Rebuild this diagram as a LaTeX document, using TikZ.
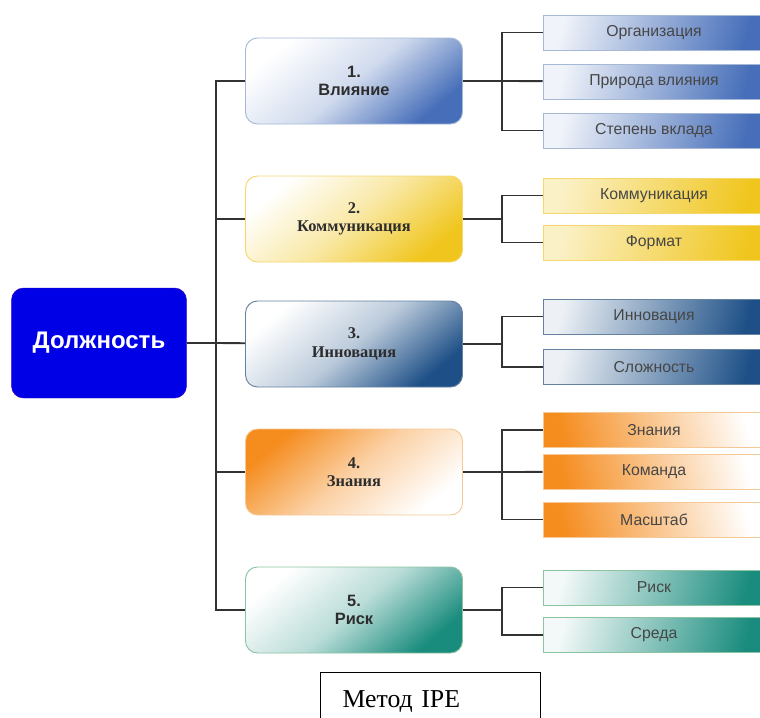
\documentclass[tikz,border=0pt]{standalone}
\usepackage{fontspec}
\setmainfont{Liberation Serif}
\setsansfont{Liberation Sans}

\definecolor{rootblue}{RGB}{0,0,230}
\definecolor{textgray}{RGB}{45,45,45}
\definecolor{subgray}{RGB}{70,70,70}
\definecolor{steel}{RGB}{70,110,185}
\definecolor{steeledge}{RGB}{165,185,215}
\definecolor{gold}{RGB}{240,198,30}
\definecolor{goldedge}{RGB}{245,215,110}
\definecolor{navy}{RGB}{30,80,135}
\definecolor{navyedge}{RGB}{100,130,160}
\definecolor{amber}{RGB}{245,140,30}
\definecolor{amberedge}{RGB}{245,200,150}
\definecolor{teal}{RGB}{25,140,125}
\definecolor{tealedge}{RGB}{140,195,160}

\begin{document}
\begin{tikzpicture}[
    x = 0.03cm, y = -0.03cm,
    root/.style={draw=rootblue!80!red, fill=rootblue, rectangle, rounded corners=0.36cm, minimum width=5.25cm, minimum height=3.3cm, text=white, font=\sffamily\bfseries\fontsize{20.5}{24}\selectfont},
    category/.style={draw, rectangle, rounded corners=0.36cm, line width=0.8pt, minimum width=6.51cm, minimum height=2.58cm, align=center, text=textgray, font=\bfseries\fontsize{14}{15.4}\selectfont},
    item/.style={draw, rectangle, line width=0.6pt, minimum width=6.66cm, minimum height=1.05cm, text=subgray, font=\sffamily\fontsize{13.5}{15}\selectfont},
    influence/.style={category, draw=steeledge, top color=white, bottom color=steel, middle color=steel!25, shading angle=40, font=\sffamily\bfseries\fontsize{14}{15.4}\selectfont},
    communication/.style={category, draw=goldedge, top color=white, bottom color=gold, middle color=gold!40, shading angle=40},
    innovation/.style={category, draw=navyedge, top color=white, bottom color=navy, middle color=navy!30, shading angle=40},
    knowledge/.style={category, draw=amberedge, top color=amber, bottom color=white, middle color=amber!40, shading angle=40},
    risk/.style={category, draw=tealedge, top color=white, bottom color=teal, middle color=teal!30, shading angle=40, font=\sffamily\bfseries\fontsize{14}{15.4}\selectfont},
    influenceitem/.style={item, draw=steeledge, left color=steel!8, right color=steel, shading angle=75},
    communicationitem/.style={item, draw=goldedge, left color=gold!25, right color=gold, shading angle=75},
    innovationitem/.style={item, draw=navyedge, left color=navy!8, right color=navy, shading angle=75},
    knowledgeitem/.style={item, draw=amberedge, left color=amber, right color=white, shading angle=105},
    riskitem/.style={item, draw=tealedge, left color=teal!5, right color=teal, shading angle=75},
    connector/.style={line width=1.6pt, draw=black!80},
    caption/.style={draw, line width=1pt, anchor=north west, minimum width=6.6cm, minimum height=1.74cm, text width=5.28cm, inner xsep=0.66cm, align=left, font=\fontsize{22}{26}\selectfont}
]
    \clip (0, 0) rectangle (760, 717);

    % Position
    \node (position) at (99, 343) [root] {Должность};

    % Factors
    \node (influence) at (354, 81) [influence] {1.\\Влияние};
    \node (communication) at (354, 219) [communication] {2.\\Коммуникация};
    \node (innovation) at (354, 344) [innovation] {3.\\Инновация};
    \node (knowledge) at (354, 472) [knowledge] {4.\\Знания};
    \node (risk) at (354, 610) [risk] {5.\\Риск};

    % Sub-factors of influence
    \node (organization) at (654, 32.5) [influenceitem] {Организация};
    \node (nature) at (654, 81.5) [influenceitem] {Природа влияния};
    \node (contribution) at (654, 130.5) [influenceitem] {Степень вклада};

    % Sub-factors of communication
    \node (dialogue) at (654, 195.5) [communicationitem] {Коммуникация};
    \node (format) at (654, 242.5) [communicationitem] {Формат};

    % Sub-factors of innovation
    \node (novelty) at (654, 316.5) [innovationitem] {Инновация};
    \node (complexity) at (654, 367) [innovationitem] {Сложность};

    % Sub-factors of knowledge
    \node (expertise) at (654, 430) [knowledgeitem] {Знания};
    \node (team) at (654, 471.5) [knowledgeitem] {Команда};
    \node (scale) at (654, 519.5) [knowledgeitem] {Масштаб};

    % Sub-factors of risk
    \node (hazard) at (654, 587.5) [riskitem] {Риск};
    \node (environment) at (654, 635) [riskitem] {Среда};

    % Caption
    \node (method) at (320, 672) [caption] {Метод IPE};

    % Branch points
    \coordinate (trunk) at (216, 343);
    \coordinate (forkinfluence) at (502, 81);
    \coordinate (forkcommunication) at (502, 219);
    \coordinate (forkinnovation) at (502, 344);
    \coordinate (forkknowledge) at (502, 472);
    \coordinate (forkrisk) at (502, 610);

    % Connectors
    \draw[connector] (position) -- (trunk);
    \draw[connector] (trunk) |- (influence);
    \draw[connector] (trunk) |- (communication);
    \draw[connector] (trunk) -- (innovation);
    \draw[connector] (trunk) |- (knowledge);
    \draw[connector] (trunk) |- (risk);

    \draw[connector] (influence) -- (forkinfluence);
    \draw[connector] (forkinfluence) |- (organization);
    \draw[connector] (forkinfluence) -- (nature);
    \draw[connector] (forkinfluence) |- (contribution);

    \draw[connector] (communication) -- (forkcommunication);
    \draw[connector] (forkcommunication) |- (dialogue);
    \draw[connector] (forkcommunication) |- (format);

    \draw[connector] (innovation) -- (forkinnovation);
    \draw[connector] (forkinnovation) |- (novelty);
    \draw[connector] (forkinnovation) |- (complexity);

    \draw[connector] (knowledge) -- (forkknowledge);
    \draw[connector] (forkknowledge) |- (expertise);
    \draw[connector] (forkknowledge) -- (team);
    \draw[connector] (forkknowledge) |- (scale);

    \draw[connector] (risk) -- (forkrisk);
    \draw[connector] (forkrisk) |- (hazard);
    \draw[connector] (forkrisk) |- (environment);
\end{tikzpicture}
\end{document}
